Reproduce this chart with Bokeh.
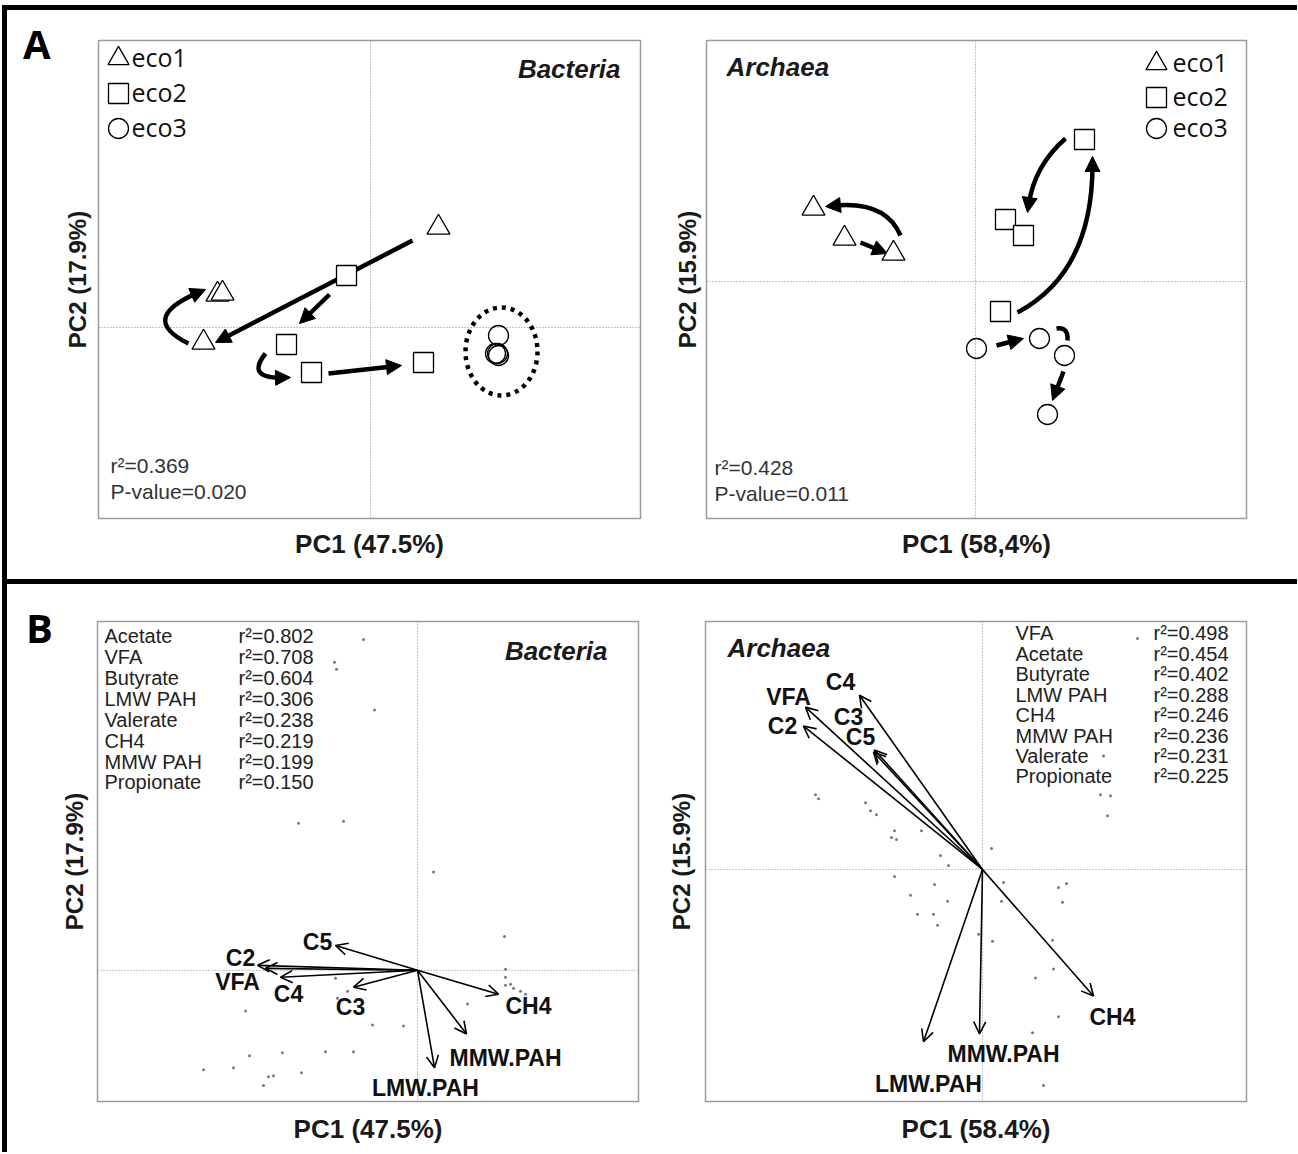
import numpy as np
from bokeh.plotting import figure
from bokeh.models import (Range1d, Span, Label, Arrow, NormalHead, OpenHead,
                          ColumnDataSource, FixedTicker, Div)
from bokeh.layouts import row, column
from bokeh.embed import file_html
from bokeh.resources import INLINE
from bokeh.core.properties import value

SANS = "Liberation Sans"
CAL = "Open Sans"

# ---------------- data ----------------
groups = ["eco1", "eco2", "eco3"]
markers = ["triangle", "square", "circle"]

# Panel A - Bacteria (PCA sample scores)
a_bac_eco1_x = [0.068, -0.153, -0.148, -0.167]
a_bac_eco1_y = [0.100, 0.033, 0.034, -0.015]
a_bac_eco2_x = [-0.024, -0.084, -0.059, 0.053]
a_bac_eco2_y = [0.052, -0.017, -0.045, -0.035]
a_bac_eco3_x = [0.128, 0.127, 0.128, 0.125]
a_bac_eco3_y = [-0.008, -0.026, -0.028, -0.026]
a_bac_arr_x0 = [0.042, -0.041, -0.042]
a_bac_arr_y0 = [0.087, 0.033, -0.046]
a_bac_arr_x1 = [-0.155, -0.071, 0.031]
a_bac_arr_y1 = [-0.015, 0.004, -0.038]
a_bac_cur_x0 = [-0.182, -0.105]
a_bac_cur_y0 = [-0.016, -0.026]
a_bac_cur_cx = [-0.233, -0.125]
a_bac_cur_cy = [0.009, -0.051]
a_bac_cur_x1 = [-0.165, -0.080]
a_bac_cur_y1 = [0.038, -0.050]
a_bac_cur_head = [True, True]
a_bac_eco3_ellipse = [0.131, -0.024, 0.072, 0.088]   # centre x, centre y, width, height
a_bac_r2 = "0.369"
a_bac_p = "0.020"

# Panel A - Archaea
a_arc_eco1_x = [-0.162, -0.131, -0.082]
a_arc_eco1_y = [0.073, 0.043, 0.028]
a_arc_eco2_x = [0.109, 0.030, 0.048, 0.025]
a_arc_eco2_y = [0.142, 0.062, 0.046, -0.030]
a_arc_eco3_x = [0.001, 0.064, 0.089, 0.072]
a_arc_eco3_y = [-0.067, -0.057, -0.074, -0.133]
a_arc_arr_x0 = [-0.115, 0.021, 0.088]
a_arc_arr_y0 = [0.039, -0.064, -0.090]
a_arc_arr_x1 = [-0.088, 0.048, 0.077]
a_arc_arr_y1 = [0.028, -0.057, -0.119]
a_arc_cur_x0 = [-0.075, 0.090, 0.042, 0.081]
a_arc_cur_y0 = [0.046, 0.143, -0.031, -0.047]
a_arc_cur_cx = [-0.090, 0.059, 0.117, 0.093]
a_arc_cur_cy = [0.081, 0.116, 0.009, -0.045]
a_arc_cur_x1 = [-0.150, 0.052, 0.117, 0.092]
a_arc_cur_y1 = [0.075, 0.069, 0.125, -0.059]
a_arc_cur_head = [True, True, True, False]
a_arc_r2 = "0.428"
a_arc_p = "0.011"

# Panel B - Bacteria (envfit vectors)
b_bac_vars = ["C5", "C2", "VFA", "C4", "C3", "CH4", "MMW.PAH", "LMW.PAH"]
b_bac_vx = [-0.082, -0.160, -0.152, -0.137, -0.064, 0.081, 0.049, 0.017]
b_bac_vy = [0.025, 0.005, 0.002, -0.007, -0.017, -0.024, -0.064, -0.098]
b_bac_lx = [-0.100, -0.177, -0.180, -0.129, -0.067, 0.111, 0.088, 0.008]
b_bac_ly = [0.029, 0.012, -0.012, -0.024, -0.037, -0.036, -0.088, -0.118]
b_bac_species_x = [-0.054, -0.083, -0.081, -0.043, -0.119, -0.074, 0.016, 0.087, 0.088, 0.088,
                   0.088, 0.093, 0.096, 0.103, 0.108, 0.050, -0.172, -0.082, -0.070, -0.080,
                   -0.045, -0.014, -0.168, -0.135, -0.092, -0.064, -0.214, -0.184, -0.149, -0.144,
                   -0.154, -0.116]
b_bac_species_y = [0.333, 0.310, 0.303, 0.262, 0.148, 0.150, 0.099, 0.034, 0.001, -0.007,
                   -0.015, -0.014, -0.018, -0.021, -0.024, -0.034, -0.041, -0.008, -0.021, -0.028,
                   -0.055, -0.056, -0.086, -0.083, -0.082, -0.082, -0.100, -0.098, -0.107, -0.106,
                   -0.116, -0.103]
b_bac_fit_names = ["Acetate", "VFA", "Butyrate", "LMW PAH", "Valerate", "CH4", "MMW PAH", "Propionate"]
b_bac_fit_r2 = [0.802, 0.708, 0.604, 0.306, 0.238, 0.219, 0.199, 0.150]

# Panel B - Archaea
b_arc_vars = ["C4", "VFA", "C2", "C3", "C5", "CH4", "MMW.PAH", "LMW.PAH"]
b_arc_vx = [-0.123, -0.177, -0.179, -0.108, -0.109, 0.111, -0.003, -0.059]
b_arc_vy = [0.175, 0.163, 0.144, 0.120, 0.118, -0.127, -0.165, -0.173]
b_arc_lx = [-0.142, -0.194, -0.200, -0.134, -0.122, 0.130, 0.021, -0.054]
b_arc_ly = [0.188, 0.173, 0.144, 0.153, 0.133, -0.148, -0.185, -0.215]
b_arc_species_x = [-0.167, -0.164, -0.117, -0.112, -0.106, -0.088, -0.091, -0.086, -0.061, -0.042,
                   -0.034, 0.009, -0.088, -0.048, -0.072, -0.035, 0.021, 0.019, -0.065, -0.049,
                   -0.045, -0.004, 0.010, 0.076, 0.084, 0.080, 0.070, 0.071, 0.053, 0.076,
                   0.050, 0.061, 0.118, 0.128, 0.125, 0.155, 0.121]
b_arc_species_y = [0.075, 0.071, 0.067, 0.059, 0.055, 0.039, 0.032, 0.030, 0.039, 0.014,
                   0.004, 0.021, -0.007, -0.015, -0.026, -0.032, -0.013, -0.032, -0.045, -0.045,
                   -0.056, -0.065, -0.072, -0.018, -0.014, -0.033, -0.071, -0.100, -0.109, -0.148,
                   -0.164, -0.217, 0.075, 0.074, 0.054, 0.232, 0.114]
b_arc_fit_names = ["VFA", "Acetate", "Butyrate", "LMW PAH", "CH4", "MMW PAH", "Valerate", "Propionate"]
b_arc_fit_r2 = [0.498, 0.454, 0.402, 0.288, 0.246, 0.236, 0.231, 0.225]


# ---------------- helpers ----------------
def make_fig(width, height, xr, yr, borders, xlabel, ylabel, xstand, ystand):
    p = figure(width=width, height=height, x_range=Range1d(*xr), y_range=Range1d(*yr),
               output_backend="svg", toolbar_location=None,
               min_border_left=borders[0], min_border_right=borders[1],
               min_border_top=borders[2], min_border_bottom=borders[3],
               background_fill_color="white", border_fill_color="white", margin=0)
    p.grid.visible = False
    p.outline_line_color = "#9a9a9a"
    p.outline_line_width = 1.5
    for ax in (p.xaxis[0], p.yaxis[0]):
        ax.ticker = FixedTicker(ticks=[])
        ax.axis_line_color = None
        ax.major_tick_line_color = None
        ax.minor_tick_line_color = None
        ax.major_label_text_font_size = "0px"
        ax.major_label_standoff = 0
        ax.major_tick_out = 0
        ax.major_tick_in = 0
        ax.axis_label_text_font = SANS
        ax.axis_label_text_font_style = "bold"
        ax.axis_label_text_color = "#1a1a1a"
    p.xaxis.axis_label = xlabel
    p.yaxis.axis_label = ylabel
    p.xaxis.axis_label_text_font_size = "26px"
    p.yaxis.axis_label_text_font_size = "24px"
    p.xaxis.axis_label_standoff = xstand
    p.yaxis.axis_label_standoff = ystand
    for dim in ("width", "height"):
        p.add_layout(Span(location=0, dimension=dim, line_color="#8a8a8a",
                          line_width=1, line_dash="1 2", level="underlay"))
    return p


def add_straight(p, x0, y0, x1, y1):
    src = ColumnDataSource(dict(x0=x0, y0=y0, x1=x1, y1=y1))
    p.add_layout(Arrow(source=src, x_start="x0", y_start="y0", x_end="x1", y_end="y1",
                       line_width=4.5, line_color="black", level="underlay",
                       end=NormalHead(size=15, fill_color="black", line_color="black", line_width=1)))


def add_curves(p, x0, y0, cx, cy, x1, y1, heads):
    x0, y0, cx, cy, x1, y1 = map(np.asarray, (x0, y0, cx, cy, x1, y1))
    heads = np.asarray(heads)
    dx, dy = x1 - cx, y1 - cy
    n = np.hypot(dx, dy)
    ux, uy = dx / n, dy / n
    back = np.where(heads, 0.008, 0.0)
    p.quadratic(x0=x0, y0=y0, cx=cx, cy=cy, x1=x1 - ux * back, y1=y1 - uy * back,
                line_width=4.5, line_color="black")
    idx = np.where(heads)[0]
    src = ColumnDataSource(dict(xs=(x1 - ux * 0.005)[idx], ys=(y1 - uy * 0.005)[idx],
                                xe=x1[idx], ye=y1[idx]))
    p.add_layout(Arrow(source=src, x_start="xs", y_start="ys", x_end="xe", y_end="ye",
                       line_alpha=0, level="underlay",
                       end=NormalHead(size=15, fill_color="black", line_color="black", line_width=1)))


def add_points(p, xs, ys):
    fills = ["white", "white", None]
    sizes = [23, 20, 20]
    for (x, y), m, f, s in zip(zip(xs, ys), markers, fills, sizes):
        p.scatter(x=x, y=y, marker=m, size=s, fill_color=f, line_color="black", line_width=1.3)


def add_legend(p, mx, tx, ys):
    p.scatter(x=[mx] * 3, y=ys, marker=markers, size=[21, 20, 20], fill_color="white",
              line_color="black", line_width=1.3)
    p.text(x=[tx] * 3, y=[y + 0.002 for y in ys], text=groups, text_font=value(CAL),
           text_font_size="25px", text_baseline="middle", text_align="left", text_color="#111111")


def add_stats(p, x, y, r2, pv):
    p.add_layout(Label(x=x, y=y, text="r\u00b2=" + r2, text_font=SANS, text_font_size="21px",
                       text_color="#333333", text_baseline="middle"))
    p.add_layout(Label(x=x, y=y - 0.026, text="P-value=" + pv, text_font=SANS,
                       text_font_size="21px", text_color="#333333", text_baseline="middle"))


def add_title(p, x, y, text, align):
    p.add_layout(Label(x=x, y=y, text=text, text_font=SANS, text_font_size="26px",
                       text_font_style="bold italic", text_color="#1a1a1a",
                       text_align=align, text_baseline="middle"))


def add_vectors(p, vx, vy, lx, ly, names):
    n = len(vx)
    src = ColumnDataSource(dict(x0=[0.0] * n, y0=[0.0] * n, x1=vx, y1=vy))
    p.add_layout(Arrow(source=src, x_start="x0", y_start="y0", x_end="x1", y_end="y1",
                       line_width=1.6, line_color="black",
                       end=OpenHead(size=12, line_width=1.6, line_color="black")))
    p.text(x=lx, y=ly, text=names, text_font=value(SANS), text_font_size="23px",
           text_font_style="bold", text_align="center", text_baseline="middle",
           text_color="#111111")


def add_species(p, xs, ys):
    p.scatter(x=xs, y=ys, size=3, fill_color="#7a7a7a", line_color=None)


def add_fit_table(p, names, r2, x_name, x_val, y_top, dy):
    ys = [y_top - i * dy for i in range(len(names))]
    p.text(x=[x_name] * len(names), y=ys, text=names, text_font=value(SANS),
           text_font_size="20px", text_baseline="middle", text_color="#222222")
    p.text(x=[x_val] * len(names), y=ys, text=["r\u00b2=%.3f" % v for v in r2],
           text_font=value(SANS), text_font_size="20px", text_baseline="middle",
           text_color="#222222")


def letter_div(letter, height, top, left):
    html = ('<div style="font-family: \'Open Sans\'; font-weight: bold; font-size: 40px; '
            'line-height: normal; color: black; margin-top: %dpx; margin-left: %dpx;">%s</div>'
            % (top, left, letter))
    return Div(text=html, width=50, height=height, margin=0)


# ---------------- Panel A, Bacteria ----------------
pa1 = make_fig(591, 569, (-0.272, 0.270), (-0.191, 0.287), (41, 8, 30, 61),
               "PC1 (47.5%)", "PC2 (17.9%)", 10, 8)
add_straight(pa1, a_bac_arr_x0, a_bac_arr_y0, a_bac_arr_x1, a_bac_arr_y1)
add_curves(pa1, a_bac_cur_x0, a_bac_cur_y0, a_bac_cur_cx, a_bac_cur_cy,
           a_bac_cur_x1, a_bac_cur_y1, a_bac_cur_head)
cx_, cy_, w_, h_ = a_bac_eco3_ellipse
pa1.ellipse(x=[cx_], y=[cy_], width=[w_], height=[h_], fill_color=None,
            line_color="black", line_width=4.5, line_dash="4 5")
add_points(pa1, [a_bac_eco1_x, a_bac_eco2_x, a_bac_eco3_x], [a_bac_eco1_y, a_bac_eco2_y, a_bac_eco3_y])
add_legend(pa1, -0.252, -0.239, [0.269, 0.234, 0.199])
add_title(pa1, 0.250, 0.259, "Bacteria", "right")
add_stats(pa1, -0.260, -0.138, a_bac_r2, a_bac_p)

# ---------------- Panel A, Archaea ----------------
pa2 = make_fig(642, 569, (-0.269, 0.271), (-0.237, 0.241), (58, 44, 30, 61),
               "PC1 (58,4%)", "PC2 (15.9%)", 10, 6)
add_straight(pa2, a_arc_arr_x0, a_arc_arr_y0, a_arc_arr_x1, a_arc_arr_y1)
add_curves(pa2, a_arc_cur_x0, a_arc_cur_y0, a_arc_cur_cx, a_arc_cur_cy,
           a_arc_cur_x1, a_arc_cur_y1, a_arc_cur_head)
add_points(pa2, [a_arc_eco1_x, a_arc_eco2_x, a_arc_eco3_x], [a_arc_eco1_y, a_arc_eco2_y, a_arc_eco3_y])
add_legend(pa2, 0.181, 0.197, [0.218, 0.184, 0.153])
add_title(pa2, -0.249, 0.215, "Archaea", "left")
add_stats(pa2, -0.261, -0.186, a_arc_r2, a_arc_p)

# ---------------- Panel B, Bacteria ----------------
pb1 = make_fig(591, 562, (-0.320, 0.221), (-0.132, 0.351), (40, 10, 36, 43),
               "PC1 (47.5%)", "PC2 (17.9%)", 12, 10)
add_species(pb1, b_bac_species_x, b_bac_species_y)
add_vectors(pb1, b_bac_vx, b_bac_vy, b_bac_lx, b_bac_ly, b_bac_vars)
add_fit_table(pb1, b_bac_fit_names, b_bac_fit_r2, -0.313, -0.179, 0.336, 0.021)
add_title(pb1, 0.190, 0.321, "Bacteria", "right")

# ---------------- Panel B, Archaea ----------------
pb2 = make_fig(642, 562, (-0.277, 0.264), (-0.233, 0.249), (57, 44, 37, 43),
               "PC1 (58.4%)", "PC2 (15.9%)", 12, 11)
add_species(pb2, b_arc_species_x, b_arc_species_y)
add_vectors(pb2, b_arc_vx, b_arc_vy, b_arc_lx, b_arc_ly, b_arc_vars)
add_fit_table(pb2, b_arc_fit_names, b_arc_fit_r2, 0.033, 0.171, 0.237, 0.0205)
add_title(pb2, -0.255, 0.222, "Archaea", "left")

# ---------------- page frame ----------------
black = {"background-color": "black"}
top_bar = Div(text="", width=1295, height=5, styles=black, margin=0)
left_bar = Div(text="", width=5, height=1142, styles=black, margin=0)
divider = Div(text="", width=1290, height=5, styles=black, margin=0)
row_a = row(letter_div("A", 569, 6, 16), pa1, pa2, spacing=0, margin=0)
row_b = row(letter_div("B", 562, 16, 19), pb1, pb2, spacing=0, margin=0)
inner = column(row_a, divider, row_b, spacing=0, margin=0)
page = column(top_bar, row(left_bar, inner, spacing=0, margin=0), spacing=0, margin=(5, 0, 0, 2))

open("out.html", "w").write(file_html(page, INLINE))
